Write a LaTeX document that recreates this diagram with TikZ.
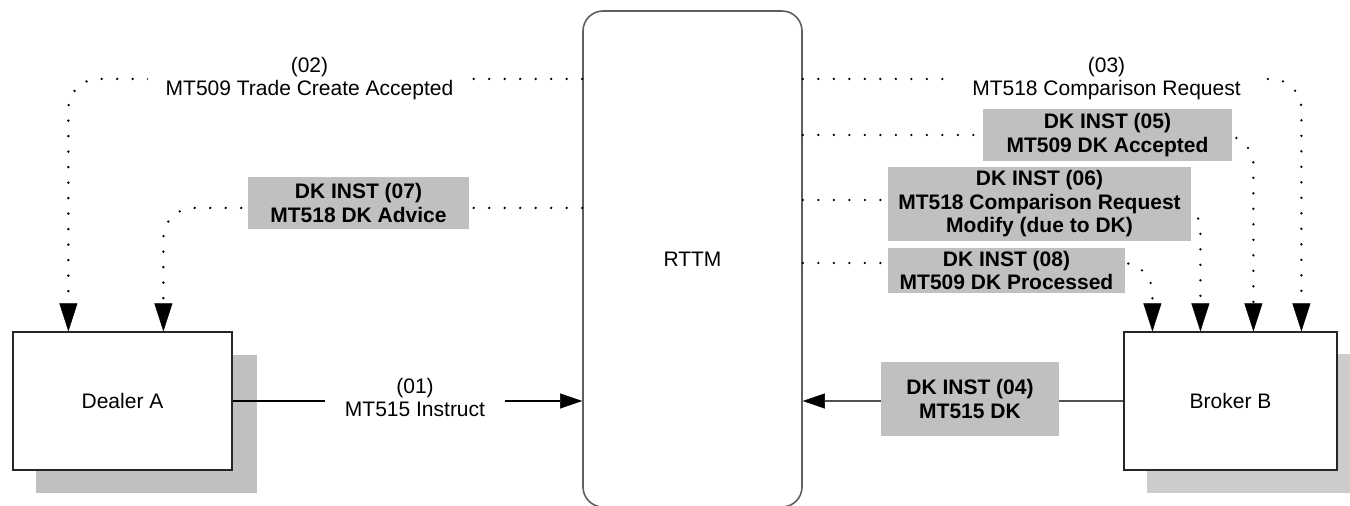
\documentclass[tikz,border=0pt]{standalone}
\usepackage{fontspec}
\setmainfont{Liberation Sans}
\usetikzlibrary{arrows.meta}
\definecolor{lblgray}{RGB}{192,192,192}
\definecolor{shadowA}{RGB}{192,192,192}
\definecolor{shadowB}{RGB}{204,204,204}
\definecolor{rttmline}{RGB}{95,95,95}
\definecolor{linegray}{RGB}{80,80,80}
\tikzset{
  entity/.style={draw=black!85, line width=0.6pt, fill=white, inner sep=0pt},
  solidarrow/.style={line width=0.6pt, -{Triangle[width=7.5pt,length=11pt,line width=0.2pt,color=black]}},
  dotarrow/.style={line width=1.3pt, dash pattern=on 0pt off 7.75pt, line cap=round,
    rounded corners=15pt, -{Triangle[width=9pt,length=14pt,line width=0.2pt]}},
  plainlbl/.style={fill=white, align=center, inner sep=0pt},
  dklbl/.style={fill=lblgray, align=center, inner sep=0pt, font=\fontsize{10.5}{11.75}\selectfont\bfseries}
}
\begin{document}
\begin{tikzpicture}[x=0.5pt,y=-0.5pt,font=\fontsize{10.5}{11.5}\selectfont]
\useasboundingbox (0,0) rectangle (1350,506);

% shadows
\fill[shadowA] (36,355) rectangle (257,493);
\fill[shadowB] (1147,354) rectangle (1360,493);

% main nodes
\node[entity, minimum width=109.5pt, minimum height=69pt] (dealer) at (122.5,401) {Dealer A};
\node[entity, minimum width=106.5pt, minimum height=69pt] (broker) at (1230.5,401) {Broker B};
\node[draw=rttmline, line width=0.8pt, fill=white, rounded corners=10pt,
      minimum width=109.5pt, minimum height=248pt, inner sep=0pt] (rttm) at (692.5,259) {RTTM};

% anchor coordinates on the box tops and levels
\coordinate (d1) at ([xshift=28pt]dealer.north west);
\coordinate (d2) at ([xshift=75.5pt]dealer.north west);
\coordinate (b1) at ([xshift=14.5pt]broker.north west);
\coordinate (b2) at ([xshift=38.5pt]broker.north west);
\coordinate (b3) at ([xshift=65pt]broker.north west);
\coordinate (b4) at ([xshift=89pt]broker.north west);
\coordinate (y02) at (0,79);
\coordinate (y03) at (0,79);
\coordinate (y05) at (0,135);
\coordinate (y06) at (0,200);
\coordinate (y07) at (0,208);
\coordinate (y08) at (0,263);

% solid connectors
\draw[solidarrow] (dealer.east) -- (dealer.east -| rttm.west);
\draw[solidarrow, draw=linegray] (broker.west) -- (broker.west -| rttm.east);

% dotted connectors
\draw[dotarrow] (rttm.west |- y02) -| (d1);
\draw[dotarrow] (rttm.west |- y07) -| (d2);
\draw[dotarrow] (rttm.east |- y03) -| (b4);
\draw[dotarrow] (rttm.east |- y05) -| (b3);
\draw[dotarrow] (rttm.east |- y06) -| (b2);
\draw[dotarrow] (rttm.east |- y08) -| (b1);

% labels
\node[plainlbl, minimum width=90pt] (l01) at (415,397) {(01)\\MT515 Instruct};
\node[plainlbl, minimum width=161.5pt] (l02) at (309.5,79) {(02)\\MT509 Trade Create Accepted};
\node[plainlbl, minimum width=158.5pt] (l03) at (1106.5,79) {(03)\\MT518 Comparison Request};
\node[dklbl, minimum width=89pt, minimum height=37pt] (l04) at (970,399) {DK INST (04)\\MT515 DK};
\node[dklbl, minimum width=124.5pt, minimum height=26pt] (l05) at (1107.5,135) {DK INST (05)\\MT509 DK Accepted};
\node[dklbl, minimum width=151.5pt, minimum height=37pt] (l06) at (1039.5,204) {DK INST (06)\\MT518 Comparison Request\\Modify (due to DK)};
\node[dklbl, minimum width=110.5pt, minimum height=26pt] (l07) at (358.5,203) {DK INST (07)\\MT518 DK Advice};
\node[dklbl, minimum width=118.5pt, minimum height=22.5pt] (l08) at (1006.5,270.5) {DK INST (08)\\MT509 DK Processed};
\end{tikzpicture}
\end{document}
